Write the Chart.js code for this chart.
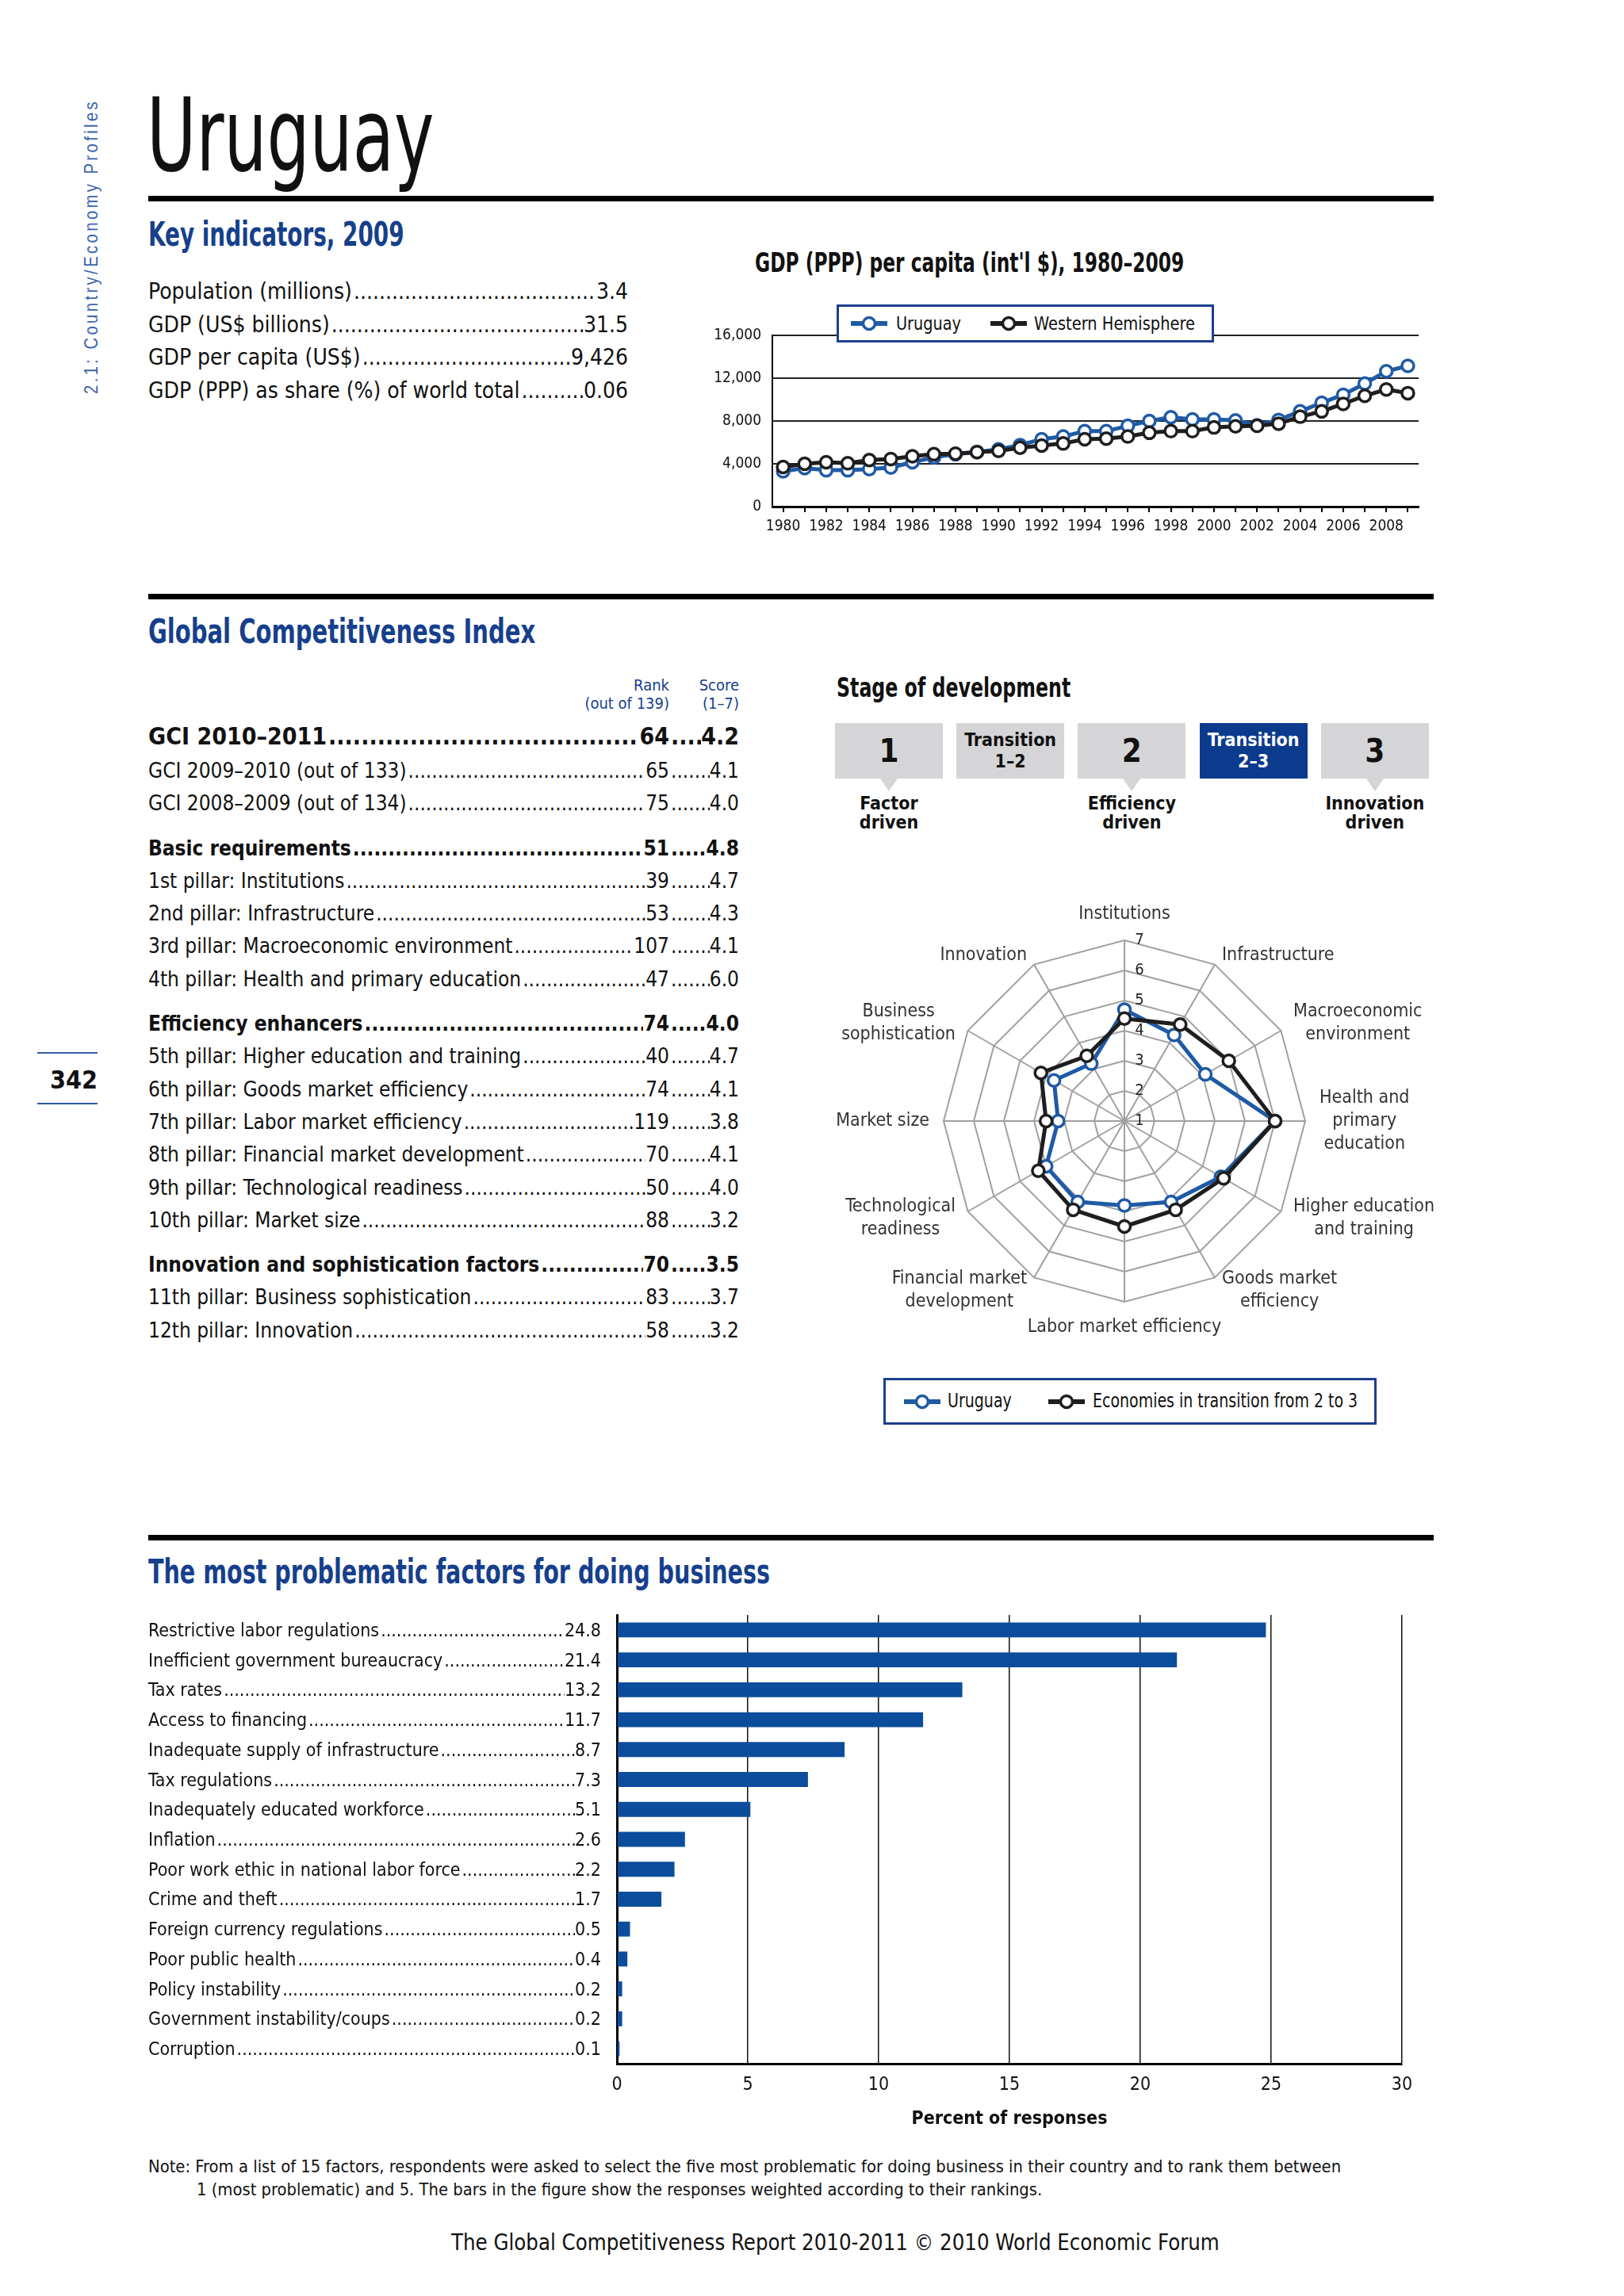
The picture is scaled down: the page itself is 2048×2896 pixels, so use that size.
<!DOCTYPE html>
<html lang="en">
<head>
<meta charset="utf-8">
<title>Uruguay – Country profile</title>
<script src="https://cdn.jsdelivr.net/npm/chart.js@4.4.1/dist/chart.umd.min.js"></script>
<style>
  body { margin:0; width:2048px; height:2896px; position:relative; overflow:hidden; background:#fff; color:#111;
         font-family:'Liberation Sans Narrow','DejaVu Sans Condensed','Roboto Condensed',sans-serif; }
  .abs { position:absolute; white-space:nowrap; }
  .fit { transform-origin:left center; }
  .rule { position:absolute; left:187px; width:1621px; height:7px; background:#000; }
  .head { color:#163f8c; font-weight:bold; }
  .row { display:flex; }
  .dots { flex:1; overflow:hidden; min-width:0; margin-left:2px; }
  .gci { display:flex; height:41.3px; line-height:41.3px; font-size:26px; }
  .gci.b { font-weight:bold; }
  .gci.first { height:46px; line-height:46px; font-size:30px; }
  .sc { display:flex; width:88px; flex:none; }
  .legend { position:absolute; box-sizing:border-box; border:3px solid #1d3f8e; background:#fff; z-index:2; }
  .legend svg, .legend span { position:absolute; white-space:nowrap; }
  .box { position:absolute; top:912px; width:136px; height:70px; background:#d5d5d7; color:#111;
         font-weight:bold; display:flex; flex-direction:column; justify-content:center; align-items:center; text-align:center; }
  .box.now { background:#0c3b8e; color:#fff; }
  .tip { position:absolute; top:982px; width:0; height:0; border-left:11px solid transparent;
         border-right:11px solid transparent; border-top:16px solid #d5d5d7; }
  canvas { position:absolute; }
</style>
</head>
<body>
<div class="rule" style="top:247px"></div>
<div class="rule" style="top:749px"></div>
<div class="rule" style="top:1936px"></div>

<canvas id="gdpChart" width="900" height="310" style="left:900px;top:380px;width:900px;height:310px"></canvas>
<canvas id="radarChart" width="900" height="600" style="left:968px;top:1114px;width:900px;height:600px"></canvas>
<canvas id="barChart" width="1100" height="670" style="left:700px;top:2030px;width:1100px;height:670px"></canvas>

<script>
// ---------- DADOS ----------
const keyLabels = ["Population (millions)", "GDP (US$ billions)", "GDP per capita (US$)", "GDP (PPP) as share (%) of world total"];
const keyValues = ["3.4", "31.5", "9,426", "0.06"];

const gdpYears = [1980, 1981, 1982, 1983, 1984, 1985, 1986, 1987, 1988, 1989,
                  1990, 1991, 1992, 1993, 1994, 1995, 1996, 1997, 1998, 1999,
                  2000, 2001, 2002, 2003, 2004, 2005, 2006, 2007, 2008, 2009];
const gdpUruguay = [3300, 3600, 3400, 3400, 3500, 3650, 4150, 4600, 4900, 5100,
                    5350, 5750, 6300, 6550, 7050, 7050, 7550, 8000, 8350, 8150,
                    8150, 8050, 7600, 8100, 8900, 9700, 10450, 11500, 12650, 13150];
const gdpWestHem = [3700, 4000, 4150, 4050, 4350, 4450, 4700, 4900, 4950, 5100,
                    5200, 5500, 5700, 5900, 6300, 6350, 6550, 6900, 7050, 7050,
                    7400, 7500, 7550, 7750, 8400, 8900, 9600, 10350, 10950, 10600];
const gdpSeries = ["Uruguay", "Western Hemisphere"];
const gdpTicks = [0, 4000, 8000, 12000, 16000];

const gciLabels = ["GCI 2010–2011", "GCI 2009–2010 (out of 133)", "GCI 2008–2009 (out of 134)",
  "Basic requirements", "1st pillar: Institutions", "2nd pillar: Infrastructure",
  "3rd pillar: Macroeconomic environment", "4th pillar: Health and primary education",
  "Efficiency enhancers", "5th pillar: Higher education and training", "6th pillar: Goods market efficiency",
  "7th pillar: Labor market efficiency", "8th pillar: Financial market development",
  "9th pillar: Technological readiness", "10th pillar: Market size",
  "Innovation and sophistication factors", "11th pillar: Business sophistication", "12th pillar: Innovation"];
const gciRanks = ["64", "65", "75", "51", "39", "53", "107", "47", "74", "40", "74", "119", "70", "50", "88", "70", "83", "58"];
const gciScores = ["4.2", "4.1", "4.0", "4.8", "4.7", "4.3", "4.1", "6.0", "4.0", "4.7", "4.1", "3.8", "4.1", "4.0", "3.2", "3.5", "3.7", "3.2"];
const gciSubindexRows = [0, 3, 8, 15];

const stageNames = [["1"], ["Transition", "1–2"], ["2"], ["Transition", "2–3"], ["3"]];
const stageDrivers = [["Factor", "driven"], null, ["Efficiency", "driven"], null, ["Innovation", "driven"]];
const currentStage = 3;

const pillarLabels = ["Institutions", "Infrastructure", ["Macroeconomic", "environment"],
  ["Health and", "primary", "education"], ["Higher education", "and training"], ["Goods market", "efficiency"],
  "Labor market efficiency", ["Financial market", "development"], ["Technological", "readiness"],
  "Market size", ["Business", "sophistication"], "Innovation"];
const uruguayScores = [4.7, 4.3, 4.1, 6.0, 4.7, 4.1, 3.8, 4.1, 4.0, 3.2, 3.7, 3.2];
const transitionScores = [4.4, 4.7, 5.0, 6.0, 4.8, 4.4, 4.5, 4.4, 4.3, 3.6, 4.2, 3.5];
const radarSeries = ["Uruguay", "Economies in transition from 2 to 3"];
const radarTicks = [1, 2, 3, 4, 5, 6, 7];

const factorLabels = ["Restrictive labor regulations", "Inefficient government bureaucracy", "Tax rates",
  "Access to financing", "Inadequate supply of infrastructure", "Tax regulations",
  "Inadequately educated workforce", "Inflation", "Poor work ethic in national labor force",
  "Crime and theft", "Foreign currency regulations", "Poor public health", "Policy instability",
  "Government instability/coups", "Corruption"];
const factorValues = [24.8, 21.4, 13.2, 11.7, 8.7, 7.3, 5.1, 2.6, 2.2, 1.7, 0.5, 0.4, 0.2, 0.2, 0.1];
const barAxisTitle = "Percent of responses";

// ---------- ESTILO ----------
const FONT = "'Liberation Sans Narrow','DejaVu Sans Condensed','Roboto Condensed',sans-serif";
const BLUE_LINE = "#1f5aa5";
const DARK = "#1e1e1e";
const BAR_BLUE = "#0b4d9c";
const DOTS = ".".repeat(220);
Chart.defaults.font.family = FONT;
Chart.defaults.color = "#111";

function addDiv(html, css, cls, parent) {
  const d = document.createElement("div");
  d.className = "abs " + (cls || "");
  d.innerHTML = html;
  d.style.cssText = css;
  (parent || document.body).appendChild(d);
  return d;
}
// estica/comprime o texto para a largura do original
function fit(el, w) {
  el.style.transform = "scaleX(" + (w / el.offsetWidth).toFixed(4) + ")";
}
function line(cy, lh) {
  return "top:" + (cy - lh / 2) + "px;height:" + lh + "px;line-height:" + lh + "px;";
}
function marker(color) {
  return '<svg width="46" height="22"><line x1="0" y1="11" x2="46" y2="11" stroke="' + color +
    '" stroke-width="6"/><circle cx="23" cy="11" r="7.5" fill="#fff" stroke="' + color + '" stroke-width="3.5"/></svg>';
}
// legenda: [x do marcador, x do texto, largura do texto] relativos à caixa
function legend(box, names, colors, slots, fontSize) {
  const h = box.clientHeight;
  names.forEach((name, i) => {
    const [mx, tx, tw] = slots[i];
    box.insertAdjacentHTML("beforeend", marker(colors[i]).replace("<svg ", '<svg style="left:' + mx + 'px;top:' + (h / 2 - 11) + 'px" '));
    const s = document.createElement("span");
    s.textContent = name;
    s.style.cssText = "left:" + tx + "px;top:0;height:" + h + "px;line-height:" + h + "px;font-size:" + fontSize + "px;transform-origin:left center;";
    box.appendChild(s);
    fit(s, tw);
  });
}

// ---------- CABEÇALHO ----------
const side = addDiv('<span style="display:inline-block;transform-origin:center">2.1: Country/Economy Profiles</span>',
  "left:-71px;top:296px;width:372px;height:30px;line-height:30px;display:flex;justify-content:center;transform:rotate(-90deg);" +
  "font-family:'Liberation Sans',sans-serif;font-size:24px;letter-spacing:4px;color:#3d66aa;");
fit(side.firstChild, 372);

fit(addDiv("Uruguay", "left:185px;top:107px;height:128px;line-height:128px;font-size:128px;", "fit"), 362);
fit(addDiv("Key indicators, 2009", "left:187px;" + line(296, 46) + "font-size:42px;", "fit head"), 323);

keyLabels.forEach((lab, i) => {
  addDiv('<span>' + lab + '</span><span class="dots">' + DOTS + '</span><span>' + keyValues[i] + '</span>',
    "left:187px;width:605px;font-size:28px;" + line(368 + i * 41.5, 36), "row");
});

// ---------- PIB ----------
fit(addDiv("GDP (PPP) per capita (int'l $), 1980–2009", "left:952px;" + line(331, 40) + "font-size:34px;font-weight:bold;", "fit"), 541);

const gdpLegend = addDiv("", "left:1055px;top:384px;width:476px;height:48px;", "legend");
legend(gdpLegend, gdpSeries, [BLUE_LINE, DARK], [[15, 72, 82], [191, 246, 203]], 23);

const lineStyle = { borderWidth: 5, pointRadius: 7.5, pointBorderWidth: 3.5, pointBackgroundColor: "#fff",
                    backgroundColor: "#fff", tension: 0, fill: false };

new Chart(document.getElementById("gdpChart"), {
  type: "line",
  data: {
    labels: gdpYears,
    datasets: [
      { label: gdpSeries[0], data: gdpUruguay, borderColor: BLUE_LINE, pointBorderColor: BLUE_LINE, order: 1, ...lineStyle },
      { label: gdpSeries[1], data: gdpWestHem, borderColor: DARK, pointBorderColor: DARK, order: 0, ...lineStyle }
    ]
  },
  options: {
    responsive: false, animation: false, events: [],
    layout: { padding: { top: 43, right: 9, left: 0, bottom: 0 } },
    plugins: { legend: { display: false }, tooltip: { enabled: false } },
    scales: {
      x: {
        offset: true,
        grid: { drawOnChartArea: false, offset: false, tickLength: 7, color: "#000", lineWidth: 2 },
        border: { color: "#000", width: 3 },
        ticks: { autoSkip: false, maxRotation: 0, padding: 7, font: { size: 19 },
                 callback: (v, i) => (gdpYears[i] % 2 === 0 ? String(gdpYears[i]) : "") },
        afterFit: s => { s.height = 51; }
      },
      y: {
        min: gdpTicks[0], max: gdpTicks[gdpTicks.length - 1],
        afterBuildTicks: s => { s.ticks = gdpTicks.map(v => ({ value: v })); },
        grid: { color: "#222", lineWidth: 2, drawTicks: false },
        border: { display: true, color: "#000", width: 2 },
        ticks: { padding: 14, font: { size: 19 }, callback: v => v.toLocaleString("en-US") },
        afterFit: s => { s.width = 74; }
      }
    }
  }
});

// ---------- GCI ----------
fit(addDiv("Global Competitiveness Index", "left:187px;" + line(797, 46) + "font-size:42px;", "fit head"), 488);
addDiv("Rank<br>(out of 139)", "left:700px;top:853px;width:144px;text-align:right;font-size:20px;line-height:23px;color:#163f8c;");
addDiv("Score<br>(1–7)", "left:832px;top:853px;width:100px;text-align:right;font-size:20px;line-height:23px;color:#163f8c;");

const gciBox = addDiv("", "left:187px;top:906px;width:745px;");
gciLabels.forEach((lab, i) => {
  const r = document.createElement("div");
  const isSub = gciSubindexRows.includes(i);
  r.className = "gci" + (isSub ? " b" : "") + (i === 0 ? " first" : "");
  if (isSub && i > 0) r.style.marginTop = "15px";
  r.innerHTML = '<span>' + lab + '</span><span class="dots">' + DOTS + '</span><span>' + gciRanks[i] +
    '</span><span class="sc"><span class="dots">' + DOTS + '</span><span>' + gciScores[i] + '</span></span>';
  gciBox.appendChild(r);
});

// número da página
addDiv("", "left:47px;top:1327px;width:76px;height:2px;background:#2d5aa0;");
addDiv("342", "left:47px;width:76px;text-align:right;font-size:32px;font-weight:bold;" + line(1362, 36));
addDiv("", "left:47px;top:1391px;width:76px;height:2px;background:#2d5aa0;");

// ---------- ESTÁGIO ----------
fit(addDiv("Stage of development", "left:1055px;" + line(867, 40) + "font-size:34px;font-weight:bold;", "fit"), 295);
stageNames.forEach((name, i) => {
  const x = 1053 + i * 153.2;
  const big = name.length === 1;
  addDiv(name.join("<br>"), "left:" + x + "px;font-size:" + (big ? 40 : 23) + "px;line-height:" + (big ? 44 : 27) + "px;",
    "box" + (i === currentStage ? " now" : ""));
  if (stageDrivers[i]) {
    addDiv("", "left:" + (x + 57) + "px;", "tip");
    addDiv(stageDrivers[i].join("<br>"), "left:" + (x - 32) + "px;top:1001px;width:200px;text-align:center;" +
      "font-size:23px;line-height:24px;font-weight:bold;");
  }
});

// ---------- RADAR ----------
// rótulos dos pilares e números da escala, posicionados pela própria escala radial
const pillarLabelPlugin = {
  id: "pillarLabels",
  beforeDatasetsDraw(chart) {
    const r = chart.scales.r, ctx = chart.ctx;
    ctx.save();
    ctx.font = "20px " + FONT;
    ctx.fillStyle = "#222";
    ctx.textAlign = "center";
    ctx.textBaseline = "middle";
    radarTicks.forEach(v => ctx.fillText(String(v), r.xCenter + 19, r.yCenter - r.getDistanceFromCenterForValue(v)));
    ctx.restore();
  },
  afterDraw(chart) {
    const r = chart.scales.r, ctx = chart.ctx;
    const n = pillarLabels.length, lh = 29;
    ctx.save();
    ctx.font = "23px " + FONT;
    ctx.fillStyle = "#333";
    ctx.textAlign = "center";
    ctx.textBaseline = "middle";
    pillarLabels.forEach((lab, i) => {
      const lines = [].concat(lab);
      const p = r.getPointPosition(i, r.drawingArea + 18);
      const w = Math.max(...lines.map(t => ctx.measureText(t).width));
      const h = lines.length * lh;
      const ang = (360 / n) * i;
      const left = (ang === 0 || ang === 180) ? p.x - w / 2 : (ang < 180 ? p.x : p.x - w);
      let top = ang === 0 ? p.y - h : (ang === 180 ? p.y : p.y - h / 2);
      if (ang === 30 || ang === 330) top += 4;
      lines.forEach((t, k) => ctx.fillText(t, left + w / 2, top + lh * k + lh / 2));
    });
    ctx.restore();
  }
};

new Chart(document.getElementById("radarChart"), {
  type: "radar",
  data: {
    labels: pillarLabels,
    datasets: [
      { label: radarSeries[0], data: uruguayScores, borderColor: BLUE_LINE, pointBorderColor: BLUE_LINE, order: 1, ...lineStyle },
      { label: radarSeries[1], data: transitionScores, borderColor: DARK, pointBorderColor: DARK, order: 0, ...lineStyle }
    ]
  },
  options: {
    responsive: false, animation: false, events: [],
    layout: { padding: { top: 72, bottom: 72, left: 0, right: 0 } },
    plugins: { legend: { display: false }, tooltip: { enabled: false } },
    scales: {
      r: {
        min: radarTicks[0], max: radarTicks[radarTicks.length - 1], beginAtZero: false,
        ticks: { stepSize: 1, display: false },
        grid: { color: "#a0a0a0", lineWidth: 2 },
        angleLines: { color: "#a0a0a0", lineWidth: 2 },
        pointLabels: { display: false }
      }
    }
  },
  plugins: [pillarLabelPlugin]
});

const radarLegend = addDiv("", "left:1114px;top:1738px;width:622px;height:59px;", "legend");
legend(radarLegend, radarSeries, [BLUE_LINE, DARK], [[23, 78, 81], [205, 261, 334]], 24);

// ---------- FATORES ----------
fit(addDiv("The most problematic factors for doing business", "left:187px;" + line(1983, 46) + "font-size:42px;", "fit head"), 784);

const barChart = new Chart(document.getElementById("barChart"), {
  type: "bar",
  data: {
    labels: factorLabels,
    datasets: [{ data: factorValues, backgroundColor: BAR_BLUE, barPercentage: 0.5, categoryPercentage: 1 }]
  },
  options: {
    indexAxis: "y", responsive: false, animation: false, events: [],
    layout: { padding: { top: 7, right: 32, left: 0, bottom: 0 } },
    plugins: { legend: { display: false }, tooltip: { enabled: false } },
    scales: {
      x: {
        min: 0, max: 30,
        grid: { color: "#111", lineWidth: 1.5, drawTicks: false },
        border: { color: "#000", width: 3 },
        ticks: { stepSize: 5, padding: 13, font: { size: 23 } },
        title: { display: true, text: barAxisTitle, font: { size: 23, weight: "bold" }, padding: { top: 0, bottom: 13 } },
        afterFit: s => { s.height = 97; }
      },
      y: {
        grid: { display: false },
        border: { display: true, color: "#000", width: 3 },
        ticks: { display: false },
        afterFit: s => { s.width = 78; }
      }
    }
  }
});

// rótulos com pontilhado alinhados às barras
factorLabels.forEach((name, i) => {
  const cy = 2030 + barChart.scales.y.getPixelForValue(i);
  addDiv('<span>' + name + '</span><span class="dots">' + DOTS + '</span><span>' + factorValues[i].toFixed(1) + '</span>',
    "left:187px;width:571px;font-size:23px;" + line(cy, 30), "row");
});

// ---------- NOTA E RODAPÉ ----------
fit(addDiv("Note: From a list of 15 factors, respondents were asked to select the five most problematic for doing business in their country and to rank them between",
  "left:187px;font-size:21px;" + line(2733, 26), "fit"), 1504);
fit(addDiv("1 (most problematic) and 5. The bars in the figure show the responses weighted according to their rankings.",
  "left:248px;font-size:21px;" + line(2762, 26), "fit"), 1066);
fit(addDiv("The Global Competitiveness Report 2010-2011 © 2010 World Economic Forum",
  "left:569px;font-size:28px;" + line(2829, 34), "fit"), 969);
</script>
</body>
</html>
